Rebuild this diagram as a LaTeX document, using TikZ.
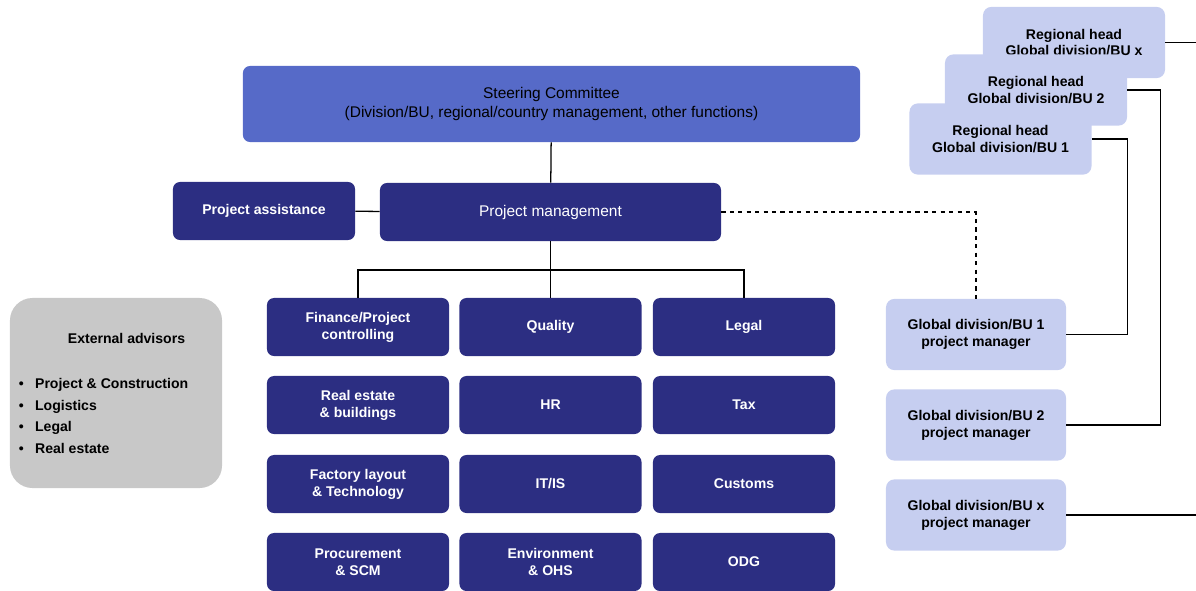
\documentclass[tikz,border=0pt]{standalone}
\usepackage{fontspec}
\setmainfont{Liberation Sans}
\usepackage{xcolor}
\usepackage{tikz}
\usetikzlibrary{positioning}
\definecolor{azulosc}{RGB}{44,46,130}
\definecolor{azulmed}{RGB}{86,106,200}
\definecolor{azulcla}{RGB}{198,206,240}
\definecolor{grisclaro}{RGB}{200,200,200}
\tikzset{
  comite/.style={rounded corners=5pt,fill=azulmed,text=black,align=center,
    font=\fontsize{11}{13.5}\selectfont,minimum width=15.425cm,minimum height=1.9cm},
  oscuro/.style={rounded corners=5pt,fill=azulosc,text=white,align=center,
    font=\bfseries\fontsize{10}{12}\selectfont,minimum width=4.55cm,minimum height=1.45cm},
  claro/.style={rounded corners=6pt,fill=azulcla,text=black,align=center,
    font=\bfseries\fontsize{10}{12}\selectfont,minimum width=4.55cm,minimum height=1.78cm},
  asesor/.style={rounded corners=16pt,fill=grisclaro,minimum width=5.3cm,minimum height=4.75cm},
  linea/.style={black,line width=0.9pt}
}
\begin{document}
\begin{tikzpicture}[x=0.025cm,y=-0.025cm]
\useasboundingbox (0,0) rectangle (1196,591);
% comite y gestion
\node[comite] (sc) at (551.5,104) {Steering Committee\\(Division/BU, regional/country management, other functions)};
\node[oscuro] (pa) at (264,211) {Project assistance};
\node[oscuro,font=\fontsize{11}{13}\selectfont,minimum width=8.525cm] (pm) at (550.5,212) {Project management};
\draw[linea] (sc) -- (pm);
\draw[linea] (pa) -- (pm);
% funciones
\foreach \n/\x/\y/\t in {f1/358/327/{Finance/Project\\controlling}, f2/550.5/327/Quality, f3/744/327/Legal,
  r1/358/405/{Real estate\\\& buildings}, r2/550.5/405/HR, r3/744/405/Tax,
  l1/358/484/{Factory layout\\\& Technology}, l2/550.5/484/{IT/IS}, l3/744/484/Customs,
  p1/358/562/{Procurement\\\& SCM}, p2/550.5/562/{Environment\\\& OHS}, p3/744/562/ODG}{
  \node[oscuro] (\n) at (\x,\y) {\t};}
\coordinate (bus) at (550.5,270);
\draw[linea] (pm) -- (bus);
\draw[linea] (f1) |- (bus) -| (f3);
\draw[linea] (f2) -- (bus);
% externos
\node[asesor] (ea) at (116,393) {};
\node[font=\bfseries\fontsize{10}{12}\selectfont] (eat) at (126.5,338) {External advisors};
\node[anchor=west,align=left,font=\bfseries\fontsize{10}{15.6}\selectfont] (eal) at (14,416)
  {\textbullet\hspace{8pt}Project \& Construction\\ \textbullet\hspace{8pt}Logistics\\
   \textbullet\hspace{8pt}Legal\\ \textbullet\hspace{8pt}Real estate};
% regiones
\node[claro] (rhx) at (1074,42.5) {Regional head\\Global division/BU x};
\node[claro] (rh2) at (1036,90) {Regional head\\Global division/BU 2};
\node[claro] (rh1) at (1000.5,139) {Regional head\\Global division/BU 1};
\node[claro,minimum width=4.5cm] (g1) at (976,334.5) {Global division/BU 1\\project manager};
\node[claro,minimum width=4.5cm] (g2) at (976,425) {Global division/BU 2\\project manager};
\node[claro,minimum width=4.5cm] (gx) at (976,515) {Global division/BU x\\project manager};
\draw[linea,dashed] (pm) -| (g1);
\draw[linea] (rh1.east) -- ++(36,0) |- (g1);
\draw[linea] (rh2.east) -- ++(33,0) |- (g2);
\coordinate (sx) at (1196,42.5);
\coordinate (sgx) at (1196,515);
\draw[linea] (rhx) -- (sx);
\draw[linea] (gx) -- (sgx);
\end{tikzpicture}
\end{document}
